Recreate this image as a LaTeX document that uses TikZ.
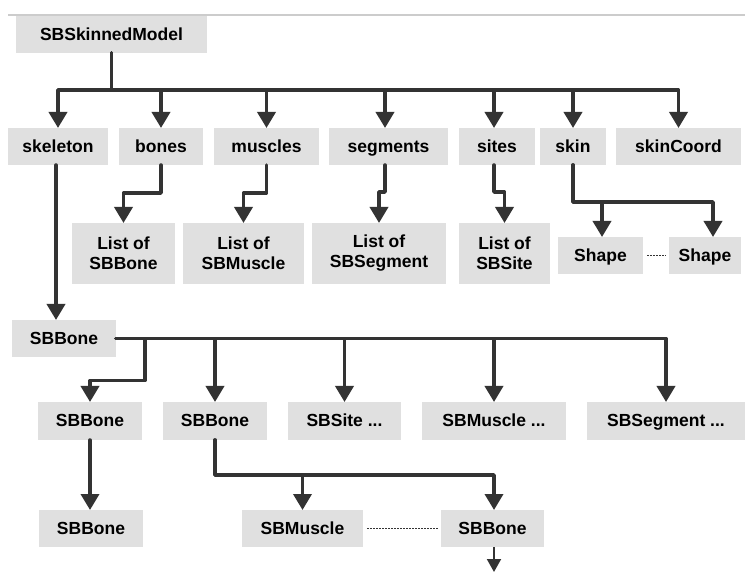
\documentclass[tikz,border=0pt]{standalone}
\usepackage{fontspec}
\setmainfont{Liberation Sans}
\usetikzlibrary{arrows.meta}
\definecolor{ink}{HTML}{333333}
\definecolor{boxfill}{HTML}{E0E0E0}
\definecolor{rulegray}{HTML}{CCCCCC}
\begin{document}
\begin{tikzpicture}[x=1pt,y=-1pt,
  cls/.style={fill=boxfill, inner sep=0pt, outer sep=0pt, text=black,
    font=\fontsize{17.5}{20}\selectfont\bfseries, align=center},
  one/.style={cls, text height=13.4pt, text depth=1.8pt},
  link/.style={draw=ink, line width=3.5pt, line join=round, line cap=round,
    -{Triangle[length=16pt,width=18pt]}},
  smalllink/.style={draw=ink, line width=2pt, -{Triangle[length=13pt,width=14pt]}},
  peer/.style={draw=ink, line width=1.1pt, dash pattern=on 2pt off 1pt, shorten <=4pt, shorten >=3pt}
]
\useasboundingbox (0,0) rectangle (745,585);

% header rule
\draw[rulegray, line width=1.2pt] (8,15) -- (745,15);

% root
\node[one, minimum width=191pt, minimum height=37pt] (model) at (111.5,34.5) {SBSkinnedModel};

% members of the skinned model
\node[one, minimum width=100pt, minimum height=37pt] (skeleton) at (58,146.5) {skeleton};
\node[one, minimum width=84pt,  minimum height=37pt] (bones)    at (161,146.5) {bones};
\node[one, minimum width=105pt, minimum height=37pt] (muscles)  at (266.5,146.5) {muscles};
\node[one, minimum width=119pt, minimum height=37pt] (segments) at (388.5,146.5) {segments};
\node[one, minimum width=76pt,  minimum height=37pt] (sites)    at (497,146.5) {sites};
\node[one, minimum width=66pt,  minimum height=37pt] (skin)     at (573,146.5) {skin};
\node[one, minimum width=125pt, minimum height=37pt] (skincoord) at (678.5,146.5) {skinCoord};

% lists
\node[cls, minimum width=103pt, minimum height=61pt] (lbone) at (123.5,253.5) {List of\\SBBone};
\node[cls, minimum width=121pt, minimum height=61pt] (lmus)  at (243.5,253.5) {List of\\SBMuscle};
\node[cls, minimum width=134pt, minimum height=61pt] (lseg)  at (379,253.5) {List of\\SBSegment};
\node[cls, minimum width=91pt,  minimum height=61pt] (lsite) at (504.5,253.5) {List of\\SBSite};
\node[one, minimum width=85pt,  minimum height=37pt] (shape1) at (600.5,255.5) {Shape};
\node[one, minimum width=72pt,  minimum height=37pt] (shape2) at (705,255.5) {Shape};

% bone hierarchy
\node[one, minimum width=104pt, minimum height=37pt] (bone) at (64,338.5) {SBBone};
\node[one, minimum width=104pt, minimum height=38pt] (b4a)    at (90,421) {SBBone};
\node[one, minimum width=104pt, minimum height=38pt] (b4b)    at (215,421) {SBBone};
\node[one, minimum width=113pt, minimum height=38pt] (b4site) at (344.5,421) {SBSite ...};
\node[one, minimum width=144pt, minimum height=38pt] (b4mus)  at (494,421) {SBMuscle ...};
\node[one, minimum width=158pt, minimum height=38pt] (b4seg)  at (666,421) {SBSegment ...};
\node[one, minimum width=104pt, minimum height=37pt] (b5a) at (91,528.5) {SBBone};
\node[one, minimum width=121pt, minimum height=37pt] (b5m) at (302.5,528.5) {SBMuscle};
\node[one, minimum width=103pt, minimum height=37pt] (b5b) at (492.5,528.5) {SBBone};

% root to members
\foreach \m in {skeleton,bones,muscles,skin,skincoord}
  \draw[link] (model.south) -- ++(0,37) -| (\m.north);
\draw[link] (model.south) -- ++(0,37) -| ([xshift=-3.5pt]segments.north);
\draw[link] (model.south) -- ++(0,37) -| ([xshift=-3pt]sites.north);

% members to lists
\draw[link] (bones.south) -- ++(0,28) -| (lbone.north);
\draw[link] (muscles.south) -- ++(0,28) -| (lmus.north);
\draw[link] ([xshift=-3.5pt]segments.south) -- ++(0,27) -| (lseg.north);
\draw[link] ([xshift=-3pt]sites.south) -- ++(0,27) -| (lsite.north);
\draw[link] (skin.south) -- ++(0,37) -| ([xshift=1.5pt]shape1.north);
\draw[link] (skin.south) -- ++(0,37) -| ([xshift=8pt]shape2.north);
\draw[peer] (shape1.east) -- (shape2.west);

% skeleton to root bone
\draw[link] ([xshift=-2pt]skeleton.south) -- ([xshift=-2pt]skeleton.south |- bone.north);

% root bone to its children
\draw[link] (bone.east) -| ++(29,42) -| (b4a.north);
\foreach \c in {b4b,b4site,b4mus,b4seg}
  \draw[link] (bone.east) -| (\c.north);

% next level
\draw[link] (b4a.south) -- (b4a.south |- b5a.north);
\draw[link] (b4b.south) -- ++(0,35) -| (b5m.north);
\draw[link] (b4b.south) -- ++(0,35) -| ([xshift=1.5pt]b5b.north);
\draw[peer] (b5m.east) -- (b5b.west);
\draw[smalllink] ([xshift=1.5pt]b5b.south) -- ++(0,25);
\end{tikzpicture}
\end{document}
